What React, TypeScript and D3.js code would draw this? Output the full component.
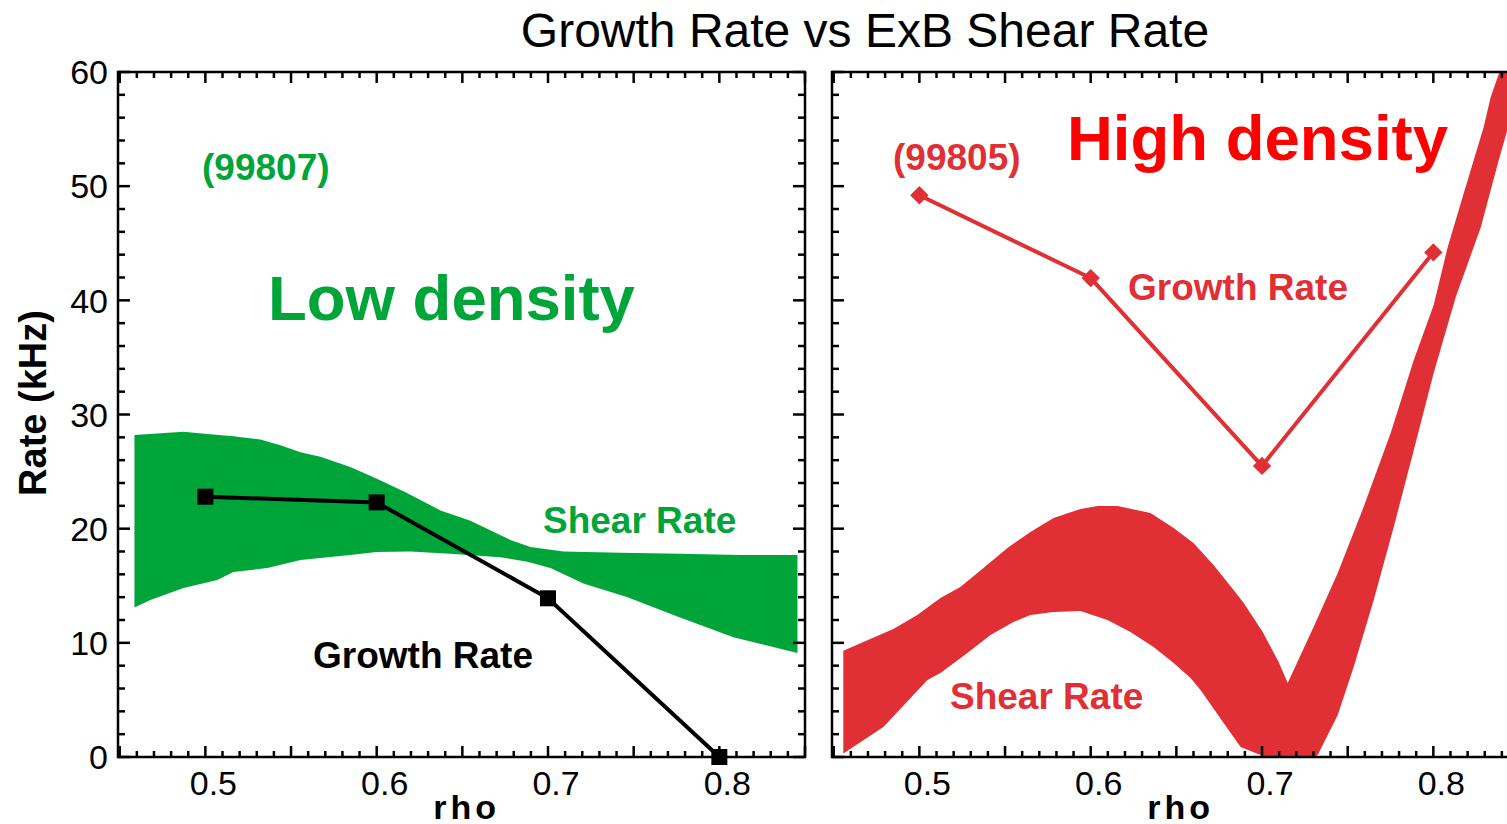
import React from 'react';
import * as d3 from 'd3';

// Axes
const rhoDomain: [number, number] = [0.449, 0.85];
const rateDomain: [number, number] = [0, 60];
const xTickLabels = [0.5, 0.6, 0.7, 0.8];
const yTickLabels = [0, 10, 20, 30, 40, 50, 60];

// Growth rate (kHz) at each rho, low density shot 99807
const lowGrowthRho = [0.5, 0.6, 0.7, 0.8];
const lowGrowthRate = [22.8, 22.3, 13.9, 0];

// Growth rate (kHz) at each rho, high density shot 99805
const highGrowthRho = [0.5, 0.6, 0.7, 0.8];
const highGrowthRate = [49.2, 41.95, 25.5, 44.2];

// ExB shear rate band, low density: [rho, kHz]
const lowShearUpper: [number, number][] = [
  [0.4586, 28.2], [0.4872, 28.5], [0.5012, 28.3], [0.5163, 28.1], [0.5321, 27.8],
  [0.5438, 27.3], [0.5555, 26.7], [0.5671, 26.3], [0.5846, 25.4], [0.5998, 24.4],
  [0.6168, 23.2], [0.6372, 21.6], [0.6547, 20.7], [0.6781, 19.0], [0.6897, 18.4],
  [0.709, 18.0], [0.7423, 17.9], [0.7773, 17.8], [0.8123, 17.7], [0.8456, 17.7],
];
const lowShearLower: [number, number][] = [
  [0.4586, 13.1], [0.4679, 13.75], [0.4872, 14.8], [0.507, 15.5], [0.5163, 16.2],
  [0.5362, 16.55], [0.5555, 17.25], [0.5846, 17.7], [0.5998, 17.95], [0.6197, 18.0],
  [0.643, 17.8], [0.6722, 17.5], [0.688, 17.1], [0.7014, 16.55], [0.7207, 15.2],
  [0.7464, 14.0], [0.7755, 12.3], [0.8082, 10.5], [0.8456, 9.1],
];

// ExB shear rate band, high density: [rho, kHz]
const highShearUpper: [number, number][] = [
  [0.4556, 9.3], [0.4673, 10.07], [0.4848, 11.21], [0.4988, 12.44], [0.5123, 13.93],
  [0.5239, 14.89], [0.5374, 16.55], [0.5514, 18.31], [0.5648, 19.71], [0.5783, 20.93],
  [0.594, 21.72], [0.604, 21.98], [0.6157, 21.98], [0.6349, 21.37], [0.6484, 20.06],
  [0.66, 18.74], [0.6717, 16.82], [0.6834, 14.63], [0.6893, 13.49], [0.7004, 10.95],
  [0.7097, 8.32], [0.715, 6.48], [0.7301, 11.39], [0.7442, 16.12], [0.7593, 21.9],
  [0.7751, 28.38], [0.7886, 34.77], [0.8002, 39.59], [0.8084, 44.67], [0.8178, 49.4],
  [0.8294, 55.18], [0.8335, 57.81], [0.8394, 60.35], [0.85, 66.0],
];
const highShearLower: [number, number][] = [
  [0.4556, 0.3], [0.479, 2.63], [0.5047, 6.74], [0.5123, 7.36], [0.528, 9.11],
  [0.5415, 10.69], [0.5549, 11.82], [0.5648, 12.44], [0.5783, 12.7], [0.594, 12.79],
  [0.6098, 12.0], [0.6232, 10.95], [0.6367, 9.63], [0.6484, 8.23], [0.6583, 6.92],
  [0.6641, 5.87], [0.6776, 2.98], [0.6875, 0.88], [0.6992, 0.18], [0.708, -0.6],
  [0.72, -0.8], [0.7325, 0.18], [0.7442, 3.68], [0.7535, 7.88], [0.7652, 13.75],
  [0.7769, 20.15], [0.7886, 26.89], [0.8002, 33.63], [0.8131, 40.3], [0.8277, 46.4],
  [0.8382, 52.3], [0.85, 58.5],
];

const FONT = '"Liberation Sans", Arial, Helvetica, sans-serif';
const GREEN = '#00a539';
const RED = '#e03035';
const BRIGHT_RED = '#ff0000';

const TOP = 72;
const BOTTOM = 757;
const PANEL_W = 687;

type PanelProps = {
  id: string;
  left: number;
  showYLabels: boolean;
  upper: [number, number][];
  lower: [number, number][];
  bandColor: string;
  growthRho: number[];
  growthRate: number[];
  growthColor: string;
  marker: 'square' | 'diamond';
  children?: React.ReactNode;
};

function Panel(p: PanelProps) {
  const x = d3.scaleLinear().domain(rhoDomain).range([p.left, p.left + PANEL_W]);
  const y = d3.scaleLinear().domain(rateDomain).range([BOTTOM, TOP]);

  const outline = d3
    .line<[number, number]>()
    .x((d) => x(d[0]))
    .y((d) => y(d[1]));
  const bandPath = outline([...p.upper, ...p.lower.slice().reverse()]) + 'Z';

  const growthPts: [number, number][] = p.growthRho.map((r, i) => [r, p.growthRate[i]]);
  const growthPath = outline(growthPts) || '';

  const xMinor = d3.range(45, 86).map((i) => ({ v: i / 100, major: i % 5 === 0 }));
  const yMinor = d3.range(0, 61, 2).map((v) => ({ v, major: v % 10 === 0 }));
  const right = p.left + PANEL_W;

  return (
    <g>
      <defs>
        <clipPath id={`clip-${p.id}`}>
          <rect x={p.left} y={TOP} width={PANEL_W} height={BOTTOM - TOP} />
        </clipPath>
      </defs>
      <path d={bandPath} fill={p.bandColor} clipPath={`url(#clip-${p.id})`} />
      <path d={growthPath} fill="none" stroke={p.growthColor} strokeWidth={4} />
      {growthPts.map((d, i) =>
        p.marker === 'square' ? (
          <rect
            key={i}
            x={x(d[0]) - 8}
            y={y(d[1]) - 8}
            width={16}
            height={16}
            fill={p.growthColor}
          />
        ) : (
          <rect
            key={i}
            x={-6.5}
            y={-6.5}
            width={13}
            height={13}
            fill={p.growthColor}
            transform={`translate(${x(d[0])},${y(d[1])}) rotate(45)`}
          />
        )
      )}
      {/* ticks, pointing inward on all four sides */}
      <g stroke="#000" strokeWidth={2.5}>
        {xMinor.map((t) => {
          const len = t.major ? 11 : 6;
          const xx = x(t.v);
          return (
            <g key={`x${t.v}`}>
              <line x1={xx} x2={xx} y1={BOTTOM} y2={BOTTOM - len} />
              <line x1={xx} x2={xx} y1={TOP} y2={TOP + len} />
            </g>
          );
        })}
        {yMinor.map((t) => {
          const len = t.major ? 12 : 7;
          const yy = y(t.v);
          return (
            <g key={`y${t.v}`}>
              <line x1={p.left} x2={p.left + len} y1={yy} y2={yy} />
              <line x1={right} x2={right - len} y1={yy} y2={yy} />
            </g>
          );
        })}
      </g>
      <rect
        x={p.left}
        y={TOP}
        width={PANEL_W}
        height={BOTTOM - TOP}
        fill="none"
        stroke="#000"
        strokeWidth={2.5}
      />
      {xTickLabels.map((v) => (
        <text
          key={`xl${v}`}
          x={x(v) + 8}
          y={795}
          textAnchor="middle"
          fontFamily={FONT}
          fontSize={34}
          fill="#000"
        >
          {v.toFixed(1)}
        </text>
      ))}
      {p.showYLabels &&
        yTickLabels.map((v) => (
          <text
            key={`yl${v}`}
            x={p.left - 10}
            y={y(v)}
            dy="0.36em"
            textAnchor="end"
            fontFamily={FONT}
            fontSize={34}
            fill="#000"
          >
            {v}
          </text>
        ))}
      <text
        x={x(0.6) + 90}
        y={819}
        textAnchor="middle"
        fontFamily={FONT}
        fontSize={34}
        fontWeight="bold"
        letterSpacing={4}
        fill="#000"
      >
        rho
      </text>
      {p.children}
    </g>
  );
}

export default function App() {
  const boldText = (
    label: string,
    xx: number,
    yy: number,
    color: string,
    size = 37
  ) => (
    <text x={xx} y={yy} fontFamily={FONT} fontSize={size} fontWeight="bold" fill={color}>
      {label}
    </text>
  );

  return (
    <svg
      width={1507}
      height={824}
      style={{ position: 'absolute', left: 0, top: 0, background: '#fff', overflow: 'hidden' }}
    >
      <rect x={0} y={0} width={1507} height={824} fill="#fff" />
      <text
        x={865}
        y={47}
        textAnchor="middle"
        fontFamily={FONT}
        fontSize={48}
        fill="#000"
      >
        Growth Rate vs ExB Shear Rate
      </text>
      <text
        transform="translate(46,403) rotate(-90)"
        textAnchor="middle"
        fontFamily={FONT}
        fontSize={38}
        fontWeight="bold"
        fill="#000"
      >
        Rate (kHz)
      </text>

      <Panel
        id="low"
        left={118}
        showYLabels={true}
        upper={lowShearUpper}
        lower={lowShearLower}
        bandColor={GREEN}
        growthRho={lowGrowthRho}
        growthRate={lowGrowthRate}
        growthColor="#000"
        marker="square"
      >
        {boldText('(99807)', 202, 180, GREEN)}
        {boldText('Low density', 268, 320, GREEN, 63.5)}
        {boldText('Shear Rate', 543, 533, GREEN)}
        {boldText('Growth Rate', 313, 668, '#000')}
      </Panel>

      <Panel
        id="high"
        left={832}
        showYLabels={false}
        upper={highShearUpper}
        lower={highShearLower}
        bandColor={RED}
        growthRho={highGrowthRho}
        growthRate={highGrowthRate}
        growthColor={RED}
        marker="diamond"
      >
        {boldText('(99805)', 893, 170, RED)}
        {boldText('High density', 1067, 160, BRIGHT_RED, 63.5)}
        {boldText('Growth Rate', 1128, 300, RED)}
        {boldText('Shear Rate', 950, 709, RED)}
      </Panel>
    </svg>
  );
}
